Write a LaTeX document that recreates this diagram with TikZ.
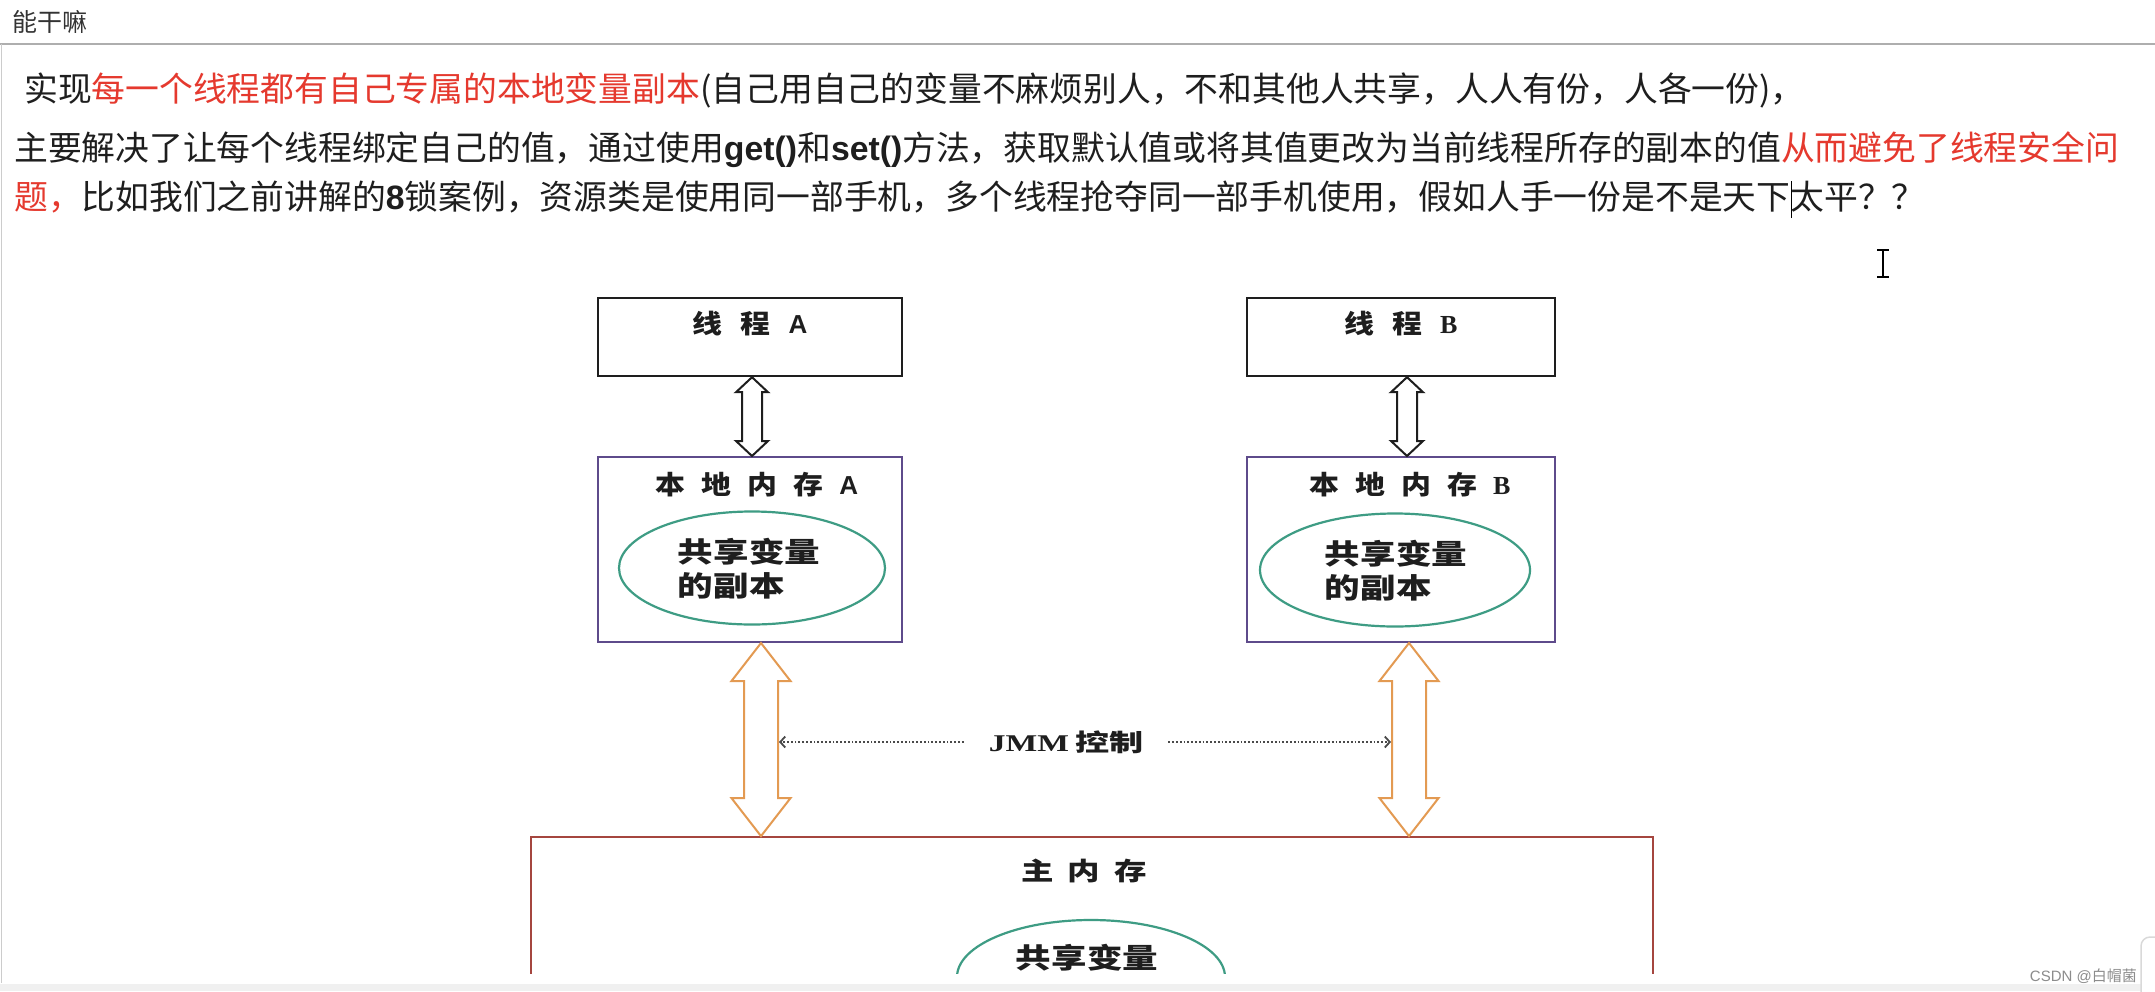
\documentclass[tikz,border=0pt]{standalone}
\usepackage{fontspec}
\usetikzlibrary{calc,arrows.meta,shapes.geometric}
\newfontfamily\cjk{Noto Sans CJK SC}
\newfontfamily\cjkhd{Noto Sans CJK SC}[FakeStretch=1.15]
\newfontfamily\cjkwd{Noto Sans CJK SC}[FakeStretch=1.42]
\newfontfamily\cjkel{Noto Sans CJK SC}[FakeStretch=1.27]
\newfontfamily\cjkmm{Noto Sans CJK SC}[FakeStretch=1.3]
\newfontfamily\lsans{Liberation Sans}
\newfontfamily\lserif{Liberation Serif}
\newfontfamily\lserifwd{Liberation Serif}[FakeStretch=1.4]
\definecolor{ink}{HTML}{1E1E1E}
\definecolor{ink2}{HTML}{333333}
\definecolor{redtxt}{HTML}{E5392E}
\definecolor{purp}{HTML}{5E4B8B}
\definecolor{brick}{HTML}{A5463F}
\definecolor{tealc}{HTML}{3E9C84}
\definecolor{orng}{HTML}{E39A52}
\definecolor{dotc}{HTML}{4A4A4A}
\definecolor{sepc}{HTML}{AEAEAE}
\definecolor{wmc}{HTML}{8C8C8C}
\newcommand{\blockarrow}[6]{%
  \draw[#1] let \p1=#2, \p2=#3 in
    (\x1,\y1) -- (\x1+#5,\y1-#6) -- (\x1+#4,\y1-#6) -- (\x1+#4,\y2+#6) --
    (\x1+#5,\y2+#6) -- (\x1,\y2) -- (\x1-#5,\y2+#6) -- (\x1-#4,\y2+#6) --
    (\x1-#4,\y1-#6) -- (\x1-#5,\y1-#6) -- cycle;}
\newcommand{\redt}[1]{\textcolor{redtxt}{#1}}
\newcommand{\latb}[1]{{\lsans\bfseries #1}}
\tikzset{
  bodytxt/.style={inner sep=0pt, anchor=base west, text=ink, font=\cjk\fontsize{33.8}{40}\selectfont},
  thbox/.style={draw=ink, line width=2.4pt, minimum height=78pt, inner sep=0pt},
  lmbox/.style={draw=purp, line width=2pt, minimum height=185pt, inner sep=0pt},
  mainbox/.style={draw=brick, line width=1.8pt, inner sep=0pt},
  ell/.style={ellipse, draw=tealc, line width=2.2pt, inner sep=0pt},
  hd/.style={inner sep=0pt, text=ink, font=\cjkhd\bfseries\fontsize{26}{30}\selectfont},
  elltxt/.style={inner sep=0pt, text=ink, align=left, font=\cjkel\bfseries\fontsize{28}{34}\selectfont},
  blkarr/.style={draw=ink, fill=white, line width=2pt, line join=miter},
  orarr/.style={draw=orng, fill=white, line width=2pt, line join=miter},
  dotarr/.style={draw=dotc, line width=2pt, dash pattern=on 1.8pt off 2pt,
     -{Straight Barb[length=5pt,width=11pt,line width=1.8pt]}},
}
\begin{document}
\begin{tikzpicture}[x=1pt,y=-1pt]
\useasboundingbox (0,0) rectangle (2155,991);
\fill[white] (0,0) rectangle (2155,991);
% header bar
\node[inner sep=0pt, anchor=base west, text=ink2, font=\cjk\fontsize{25}{30}\selectfont] (title) at (12,31) {能干嘛};
\draw[sepc, line width=2pt] (0,44) -- (2155,44);
\draw[black!20, line width=1.5pt] (1.5,44) -- (1.5,983);
% body text
\node[bodytxt] (l1) at (24,101) {实现\redt{每一个线程都有自己专属的本地变量副本}(自己用自己的变量不麻烦别人，不和其他人共享，人人有份，人各一份)，};
\node[bodytxt] (l2) at (14,160) {主要解决了让每个线程绑定自己的值，通过使用\latb{get()}和\latb{set()}方法，获取默认值或将其值更改为当前线程所存的副本的值\redt{从而避免了线程安全问}};
\node[bodytxt] (l3) at (14,209) {\redt{题，}比如我们之前讲解的\latb{8}锁案例，资源类是使用同一部手机，多个线程抢夺同一部手机使用，假如人手一份是不是天下\rlap{\textcolor{black}{\rule[-9pt]{1.6pt}{37pt}}}太平？？};
% mouse I-beam
\draw[black, line width=1.6pt] (1883,250) -- (1883,277);
\draw[black, line width=1.4pt] (1877,250) -- (1889,250) (1877,277) -- (1889,277);
% thread boxes
\node[thbox, minimum width=304pt] (tA) at (750,337) {};
\node[thbox, minimum width=308pt] (tB) at (1401,337) {};
\node[hd] (tAl) at ($(tA.north)+(0,27)$) {线\hspace{18pt}程\hspace{18pt}{\lsans\bfseries A}};
\node[hd] (tBl) at ($(tB.north)+(0,27)$) {线\hspace{18pt}程\hspace{18pt}{\lserif\bfseries B}};
% local memory boxes
\node[lmbox, minimum width=304pt] (lmA) at (750,549.5) {};
\node[lmbox, minimum width=308pt] (lmB) at (1401,549.5) {};
\node[hd] (lmAl) at ($(lmA.north)+(7,29)$) {本\hspace{16pt}地\hspace{16pt}内\hspace{16pt}存\hspace{16pt}{\lsans\bfseries A}};
\node[hd] (lmBl) at ($(lmB.north)+(9,29)$) {本\hspace{16pt}地\hspace{16pt}内\hspace{16pt}存\hspace{16pt}{\lserif\bfseries B}};
\node[ell, minimum width=266pt, minimum height=113pt] (eA) at (752,568) {};
\node[ell, minimum width=270pt, minimum height=113pt] (eB) at (1395,570) {};
\node[elltxt] (eAt) at (749,569) {共享变量\\的副本};
\node[elltxt] (eBt) at (1396,571) {共享变量\\的副本};
% main memory (cut off by the window)
\begin{scope}
  \clip (0,0) rectangle (2155,973);
  \node[mainbox, minimum width=1122pt, minimum height=220pt] (mm) at (1092,947) {};
  \node[ell, minimum width=268pt, minimum height=114pt] (eM) at (1091,977) {};
\end{scope}
\node[inner sep=0pt, text=ink, font=\cjkmm\bfseries\fontsize{25}{30}\selectfont] (mml) at (1084,871) {主\hspace{14pt}内\hspace{14pt}存};
\node[inner sep=0pt, text=ink, font=\cjkel\bfseries\fontsize{28}{34}\selectfont] (eMt) at (1087,958) {共享变量};
% hollow arrows thread <-> local
\coordinate (hA) at ($(tA.south)+(2,0)$);
\coordinate (hB) at ($(tB.south)+(6,0)$);
\blockarrow{blkarr}{(hA)}{(hA |- lmA.north)}{10pt}{16pt}{15pt}
\blockarrow{blkarr}{(hB)}{(hB |- lmB.north)}{10pt}{16pt}{15pt}
% orange arrows local <-> main
\coordinate (oA) at ($(lmA.south)+(11,0)$);
\coordinate (oB) at ($(lmB.south)+(8,0)$);
\blockarrow{orarr}{(oA)}{(oA |- mm.north)}{17pt}{29.5pt}{38pt}
\blockarrow{orarr}{(oB)}{(oB |- mm.north)}{17pt}{29.5pt}{38pt}
% JMM control
\node[inner xsep=25pt, inner ysep=0pt, text=ink] (jmm) at (1066,742)
  {{\lserifwd\bfseries\fontsize{24}{28}\selectfont JMM}\hspace{6pt}{\cjkwd\bfseries\fontsize{24}{28}\selectfont 控制}};
\draw[dotarr] (jmm.west) -- ($(oA |- jmm.center)+(18,0)$);
\draw[dotarr] (jmm.east) -- ($(oB |- jmm.center)+(-18,0)$);
% bottom window chrome
\fill[black!6] (0,984) rectangle (2155,991);
\draw[black!15, line width=1.5pt, fill=white, rounded corners=9pt] (2141,937) rectangle (2175,1005);
\node[inner sep=0pt, anchor=base east, text=wmc, font=\fontsize{15}{18}\selectfont] (wm) at (2137,981) {{\lsans CSDN @}{\cjk 白帽菌}};
\end{tikzpicture}
\end{document}
